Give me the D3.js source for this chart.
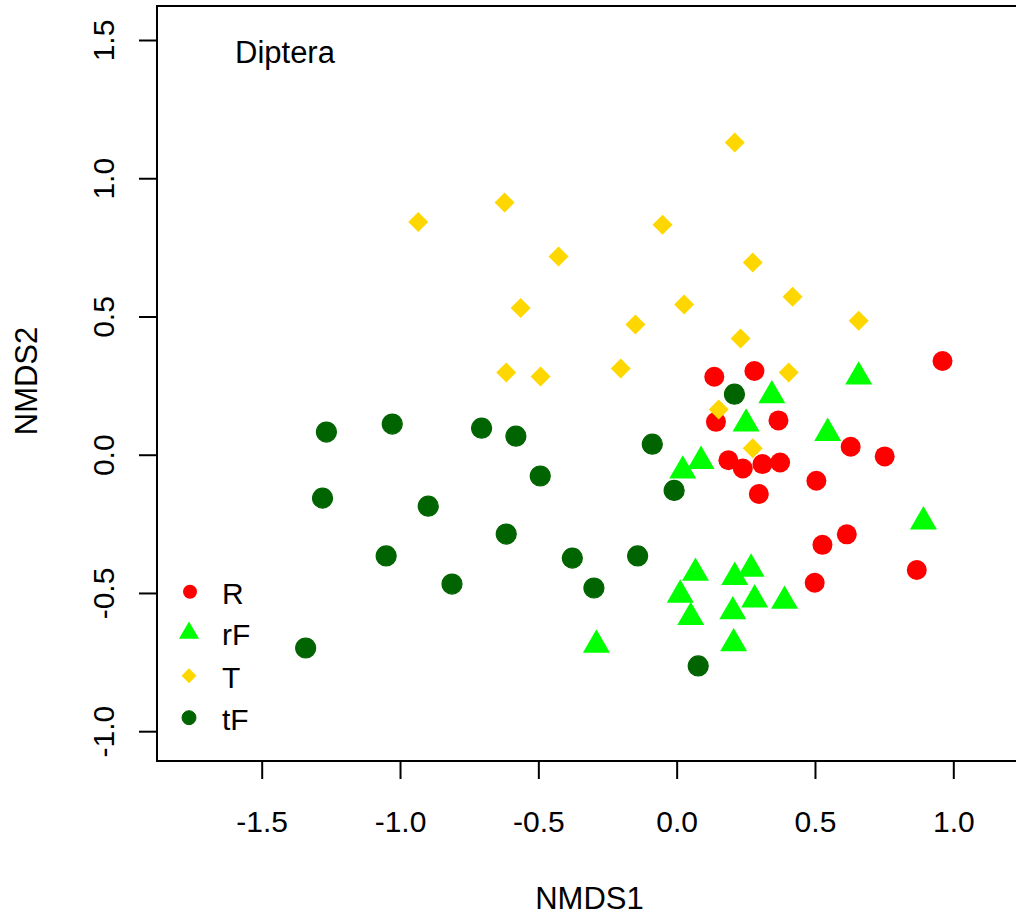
<!DOCTYPE html>
<html>
<head>
<meta charset="utf-8">
<script src="https://cdn.jsdelivr.net/npm/d3@7"></script>
<style>
  body { margin: 0; background: #fff; }
  text { font-family: "Liberation Sans", Arial, sans-serif; fill: #000; }
</style>
</head>
<body>
<svg id="chart" width="1016" height="917"></svg>
<script>
// group R (red circles)
const rX = [0.961, 0.136, 0.281, 0.142, 0.368, 0.629, 0.752, 0.187, 0.239, 0.310, 0.374, 0.505, 0.297, 0.615, 0.527, 0.868, 0.499];
const rY = [0.339, 0.282, 0.303, 0.119, 0.124, 0.029, -0.006, -0.020, -0.050, -0.034, -0.028, -0.094, -0.142, -0.288, -0.326, -0.417, -0.463];
// group rF (green triangles)
const rfX = [0.658, 0.344, 0.251, 0.546, 0.088, 0.022, 0.892, 0.068, 0.269, 0.210, 0.013, 0.282, 0.390, 0.203, 0.051, 0.206, -0.290];
const rfY = [0.282, 0.214, 0.112, 0.078, -0.023, -0.058, -0.242, -0.428, -0.413, -0.443, -0.507, -0.524, -0.529, -0.567, -0.588, -0.683, -0.688];
// group T (gold diamonds)
const tX = [0.210, -0.622, -0.934, -0.051, -0.427, 0.275, 0.419, -0.564, 0.027, 0.658, -0.149, 0.231, -0.616, -0.492, -0.202, 0.405, 0.152, 0.275];
const tY = [1.129, 0.912, 0.842, 0.832, 0.717, 0.695, 0.571, 0.531, 0.543, 0.485, 0.471, 0.420, 0.297, 0.283, 0.312, 0.297, 0.164, 0.023];
// group tF (dark green circles)
const tfX = [-1.266, -1.028, -0.705, -0.581, -0.088, -0.493, -0.009, -1.280, -0.898, -0.616, -1.050, -0.377, -0.141, -0.812, -0.299, -1.341, 0.078, 0.209];
const tfY = [0.082, 0.111, 0.096, 0.067, 0.038, -0.077, -0.129, -0.157, -0.186, -0.287, -0.366, -0.374, -0.366, -0.468, -0.482, -0.699, -0.764, 0.219];

const groups = ['R', 'rF', 'T', 'tF'];
const xTicks = [-1.5, -1.0, -0.5, 0.0, 0.5, 1.0];
const yTicks = [-1.0, -0.5, 0.0, 0.5, 1.0, 1.5];

const svg = d3.select('#chart');

const x = d3.scaleLinear().domain([-1.5, 1.0]).range([261.7, 953.3]);
const y = d3.scaleLinear().domain([-1.0, 1.5]).range([731.2, 40]);

const box = { left: 157, top: 6, right: 1030, bottom: 761 };

// plot box
svg.append('rect')
  .attr('x', box.left).attr('y', box.top)
  .attr('width', box.right - box.left).attr('height', box.bottom - box.top)
  .attr('fill', 'none').attr('stroke', '#000').attr('stroke-width', 2);

const fmt = d => d3.format('.1f')(d).replace('−', '-');

// x axis
const xAxis = svg.append('g')
  .attr('transform', `translate(0,${box.bottom})`)
  .call(d3.axisBottom(x).tickValues(xTicks).tickSize(18).tickPadding(0));
xAxis.select('.domain').remove();
xAxis.selectAll('line').attr('stroke', '#000').attr('stroke-width', 2);
xAxis.selectAll('text')
  .attr('y', 71).attr('dy', 0)
  .attr('font-size', '30px')
  .attr('font-family', '"Liberation Sans", Arial, sans-serif')
  .text(fmt);

// y axis
const yAxis = svg.append('g')
  .attr('transform', `translate(${box.left},0)`)
  .call(d3.axisLeft(y).tickValues(yTicks).tickSize(18));
yAxis.select('.domain').remove();
yAxis.selectAll('line').attr('stroke', '#000').attr('stroke-width', 2);
yAxis.selectAll('text')
  .attr('x', 0).attr('dy', 0)
  .attr('transform', 'translate(-43,0) rotate(-90)')
  .attr('text-anchor', 'middle')
  .attr('font-size', '30px')
  .attr('font-family', '"Liberation Sans", Arial, sans-serif')
  .text(fmt);

// axis titles
svg.append('text')
  .attr('x', 589.5).attr('y', 909)
  .attr('text-anchor', 'middle').attr('font-size', '31px')
  .text('NMDS1');
svg.append('text')
  .attr('transform', 'translate(37,381) rotate(-90)')
  .attr('text-anchor', 'middle').attr('font-size', '31px')
  .text('NMDS2');

svg.append('text')
  .attr('x', 235).attr('y', 63)
  .attr('font-size', '31px')
  .text('Diptera');

const pts = (xs, ys) => xs.map((v, i) => ({ x: v, y: ys[i] }));
const plot = svg.append('g');

// R
plot.selectAll('circle.r')
  .data(pts(rX, rY)).enter().append('circle')
  .attr('class', 'r')
  .attr('cx', d => x(d.x)).attr('cy', d => y(d.y))
  .attr('r', 10).attr('fill', '#ff0000');

// rF
const tri = d3.symbol().type(d3.symbolTriangle).size(316);
plot.selectAll('path.rf')
  .data(pts(rfX, rfY)).enter().append('path')
  .attr('class', 'rf')
  .attr('transform', d => `translate(${x(d.x)},${y(d.y)})`)
  .attr('d', tri).attr('fill', '#00ff00');

// T
const dia = d3.symbol().type(d3.symbolSquare).size(200);
plot.selectAll('path.t')
  .data(pts(tX, tY)).enter().append('path')
  .attr('class', 't')
  .attr('transform', d => `translate(${x(d.x)},${y(d.y)}) rotate(45)`)
  .attr('d', dia).attr('fill', '#ffd700');

// tF
plot.selectAll('circle.tf')
  .data(pts(tfX, tfY)).enter().append('circle')
  .attr('class', 'tf')
  .attr('cx', d => x(d.x)).attr('cy', d => y(d.y))
  .attr('r', 10).attr('fill', '#006400')
  .attr('stroke', '#006400').attr('stroke-width', 1.2);

// legend
const legY = [591.7, 633, 675.7, 717.7];
const legend = svg.append('g');
legend.append('circle').attr('cx', 190).attr('cy', legY[0]).attr('r', 7).attr('fill', '#ff0000');
legend.append('path')
  .attr('transform', `translate(189,${legY[1]})`)
  .attr('d', d3.symbol().type(d3.symbolTriangle).size(175)).attr('fill', '#00ff00');
legend.append('path')
  .attr('transform', `translate(189,${legY[2]}) rotate(45)`)
  .attr('d', d3.symbol().type(d3.symbolSquare).size(112)).attr('fill', '#ffd700');
legend.append('circle').attr('cx', 189).attr('cy', legY[3]).attr('r', 7)
  .attr('fill', '#006400').attr('stroke', '#006400').attr('stroke-width', 1);
legend.selectAll('text.leg')
  .data(groups).enter().append('text')
  .attr('class', 'leg')
  .attr('x', 222).attr('y', (d, i) => legY[i] + 12)
  .attr('font-size', '30px')
  .text(d => d);
</script>
</body>
</html>
